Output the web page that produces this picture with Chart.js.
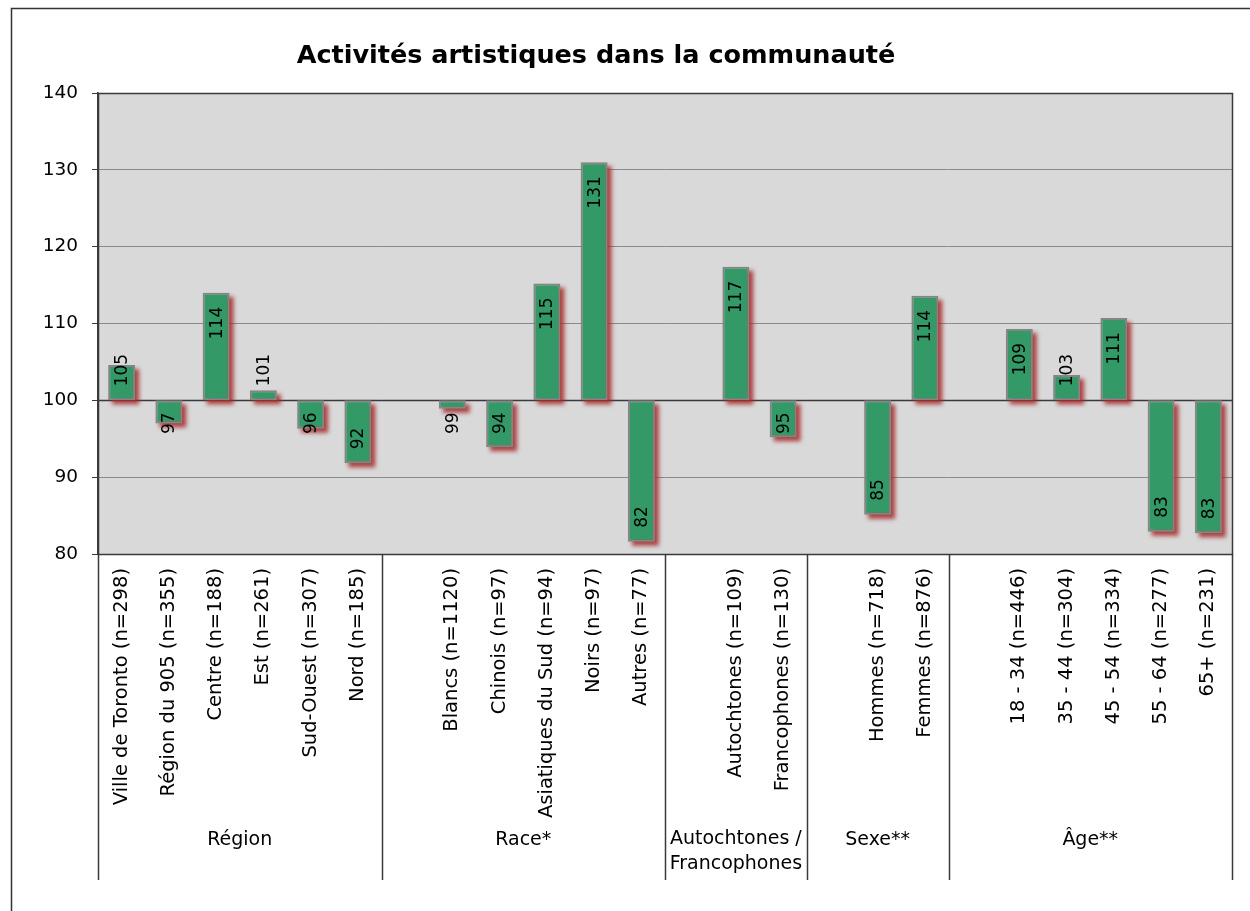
<!DOCTYPE html>
<html>
<head>
<meta charset="utf-8">
<script src="https://cdn.jsdelivr.net/npm/chart.js@4/dist/chart.umd.min.js"></script>
<style>
  html, body { margin: 0; padding: 0; background: #fff; }
  #wrap { width: 1250px; height: 911px; position: relative; }
</style>
</head>
<body>
<div id="wrap"><canvas id="chart" width="1250" height="911"></canvas></div>
<script>
"use strict";

const chartTitle = 'Activités artistiques dans la communauté';

// one slot per category; '' = empty spacer slot between groups
const categories = [
    'Ville de Toronto (n=298)', 'Région du 905 (n=355)', 'Centre (n=188)', 'Est (n=261)', 'Sud-Ouest (n=307)', 'Nord (n=185)',
    '',
    'Blancs (n=1120)', 'Chinois (n=97)', 'Asiatiques du Sud (n=94)', 'Noirs (n=97)', 'Autres (n=77)',
    '',
    'Autochtones (n=109)', 'Francophones (n=130)',
    '',
    'Hommes (n=718)', 'Femmes (n=876)',
    '',
    '18 - 34 (n=446)', '35 - 44 (n=304)', '45 - 54 (n=334)', '55 - 64 (n=277)', '65+ (n=231)'
];

const indexValues = [
    104.6, 97.0, 114.0, 101.3, 96.3, 91.8,
    null,
    98.9, 93.9, 115.2, 131.0, 81.6,
    null,
    117.4, 95.2,
    null,
    85.1, 113.6,
    null,
    109.3, 103.3, 110.7, 82.9, 82.7
];

const baseValue = 100;
const yTicks = [80, 90, 100, 110, 120, 130, 140];

const groupNames = ['Région', 'Race*', ['Autochtones /', 'Francophones'], 'Sexe**', 'Âge**'];
const groupBounds = [0, 6, 12, 15, 18, 24];

const FONT = '"DejaVu Sans", Tahoma, sans-serif';

const decorPlugin = {
    id: 'decor',
    beforeDraw(chart) {
        const { ctx, chartArea: a } = chart;
        ctx.save();
        ctx.fillStyle = '#d9d9d9';
        ctx.fillRect(a.left, a.top, a.right - a.left, a.bottom - a.top);
        ctx.restore();
    },
    beforeDatasetsDraw(chart) {
        const { ctx, chartArea: a, scales } = chart;
        const y = Math.round(scales.y.getPixelForValue(baseValue)) + 0.5;
        ctx.save();
        ctx.strokeStyle = '#3a3a3a';
        ctx.lineWidth = 1.5;
        ctx.beginPath();
        ctx.moveTo(a.left, y);
        ctx.lineTo(a.right, y);
        ctx.stroke();

        // soft red drop shadow behind each bar
        ctx.fillStyle = 'rgba(165, 40, 40, 0.85)';
        ctx.filter = 'blur(2px)';
        chart.getDatasetMeta(0).data.forEach((bar, i) => {
            if (indexValues[i] === null) return;
            const top = Math.min(bar.y, bar.base);
            const h = Math.abs(bar.y - bar.base);
            ctx.fillRect(bar.x - bar.width / 2 + 4, top + 4, bar.width, h);
        });
        ctx.restore();
    },
    afterDraw(chart) {
        const { ctx, chartArea: a, scales } = chart;
        const x = scales.x;
        const slot = x.getPixelForValue(1) - x.getPixelForValue(0);
        ctx.save();

        // outer chart frame
        ctx.strokeStyle = '#333';
        ctx.lineWidth = 1.5;
        ctx.beginPath();
        ctx.moveTo(11.5, 911);
        ctx.lineTo(11.5, 8.5);
        ctx.lineTo(1250, 8.5);
        ctx.stroke();

        // plot area border
        ctx.strokeStyle = '#3a3a3a';
        ctx.lineWidth = 1.5;
        ctx.strokeRect(Math.round(a.left) + 0.5, Math.round(a.top) + 0.5, Math.round(a.right - a.left), Math.round(a.bottom - a.top));

        // group separators below the axis
        const lineBottom = 880;
        groupBounds.forEach(b => {
            const px = Math.round(x.getPixelForValue(b) - slot / 2) + 0.5;
            ctx.beginPath();
            ctx.moveTo(px, a.bottom);
            ctx.lineTo(px, lineBottom);
            ctx.stroke();
        });

        // group labels
        ctx.fillStyle = '#000';
        ctx.font = '19px ' + FONT;
        ctx.textAlign = 'center';
        ctx.textBaseline = 'middle';
        groupNames.forEach((name, i) => {
            const x0 = x.getPixelForValue(groupBounds[i]) - slot / 2;
            const x1 = x.getPixelForValue(groupBounds[i + 1]) - slot / 2;
            const cx = (x0 + x1) / 2;
            if (Array.isArray(name)) {
                ctx.fillText(name[0], cx, 839);
                ctx.fillText(name[1], cx, 864);
            } else {
                ctx.fillText(name, cx, 840);
            }
        });

        // title
        ctx.font = 'bold 25.5px ' + FONT;
        ctx.fillText(chartTitle, 596, 56);

        // value labels, rotated
        const meta = chart.getDatasetMeta(0);
        const yBase = scales.y.getPixelForValue(baseValue);
        ctx.font = '17px ' + FONT;
        meta.data.forEach((bar, i) => {
            const v = indexValues[i];
            if (v === null) return;
            const text = String(Math.round(v));
            const len = ctx.measureText(text).width;
            const end = scales.y.getPixelForValue(v);
            let top, bottom;
            if (v >= baseValue) {
                top = Math.min(end + 14, yBase - 14 - len);
                bottom = top + len;
            } else {
                bottom = Math.max(end - 14, yBase + 12 + len);
                top = bottom - len;
            }
            ctx.save();
            ctx.translate(bar.x + 1, (top + bottom) / 2);
            ctx.rotate(-Math.PI / 2);
            ctx.textAlign = 'center';
            ctx.textBaseline = 'middle';
            ctx.fillText(text, 0, 0);
            ctx.restore();
        });
        ctx.restore();
    }
};

new Chart(document.getElementById('chart'), {
    type: 'bar',
    data: {
        labels: categories,
        datasets: [{
            data: indexValues.map(v => v === null ? null : [baseValue, v]),
            backgroundColor: '#339966',
            borderColor: '#858585',
            borderWidth: 2,
            borderSkipped: false,
            barPercentage: 0.57,
            categoryPercentage: 1
        }]
    },
    plugins: [decorPlugin],
    options: {
        responsive: false,
        animation: false,
        layout: { padding: { top: 93, right: 18, bottom: 27, left: 0 } },
        plugins: {
            legend: { display: false },
            title: { display: false },
            tooltip: { enabled: false }
        },
        scales: {
            x: {
                grid: { display: false, drawTicks: false },
                border: { display: false },
                ticks: {
                    autoSkip: false,
                    minRotation: 90,
                    maxRotation: 90,
                    padding: 14,
                    color: '#000',
                    font: { family: FONT, size: 19.5 }
                },
                afterFit(scale) { scale.height = 330; }
            },
            y: {
                min: 80,
                max: 140,
                afterBuildTicks(scale) { scale.ticks = yTicks.map(v => ({ value: v })); },
                grid: { color: '#8a8a8a', lineWidth: 1, tickLength: 6, tickColor: '#3a3a3a' },
                border: { display: true, color: '#3a3a3a', width: 1.5 },
                ticks: {
                    padding: 14,
                    color: '#000',
                    font: { family: FONT, size: 18.5 }
                },
                afterFit(scale) { scale.width = 98; }
            }
        }
    }
});
</script>
</body>
</html>
